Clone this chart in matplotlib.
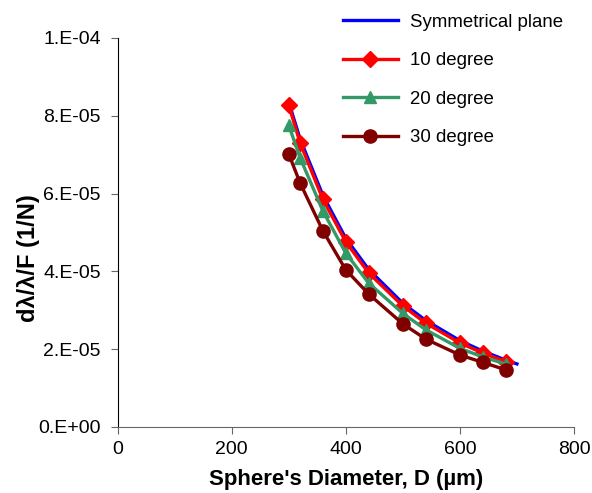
import numpy as np
import matplotlib.pyplot as plt

plt.rcParams['font.family'] = ['Liberation Sans', 'DejaVu Sans']

# Sphere diameter (um) and compliance d(lambda)/lambda/F (1/N)
d_sym = [300, 320, 360, 400, 440, 500, 540, 600, 640, 680, 700]
sym = [8.35e-5, 7.40e-5, 5.95e-5, 4.85e-5, 4.05e-5, 3.18e-5, 2.74e-5, 2.22e-5, 1.95e-5, 1.72e-5, 1.62e-5]

d = [300, 320, 360, 400, 440, 500, 540, 600, 640, 680]
deg10 = [8.28e-5, 7.30e-5, 5.85e-5, 4.76e-5, 3.96e-5, 3.11e-5, 2.67e-5, 2.16e-5, 1.90e-5, 1.68e-5]
deg20 = [7.76e-5, 6.92e-5, 5.55e-5, 4.47e-5, 3.70e-5, 2.92e-5, 2.50e-5, 2.02e-5, 1.80e-5, 1.62e-5]
deg30 = [7.02e-5, 6.27e-5, 5.04e-5, 4.04e-5, 3.42e-5, 2.65e-5, 2.26e-5, 1.85e-5, 1.66e-5, 1.47e-5]

ytick_labels = ['0.E+00', '2.E-05', '4.E-05', '6.E-05', '8.E-05', '1.E-04']

fig, ax = plt.subplots(figsize=(5.92, 4.93), dpi=100)
fig.subplots_adjust(left=0.1985, right=0.9696, bottom=0.134, top=0.923)

ax.plot(d_sym, sym, color='blue', lw=2.4, label='Symmetrical plane')
ax.plot(d, deg10, color='red', lw=2.4, marker='D', ms=8, label='10 degree')
ax.plot(d, deg20, color='#339966', lw=2.4, marker='^', ms=9, label='20 degree')
ax.plot(d, deg30, color='#800000', lw=2.4, marker='o', ms=9.5, label='30 degree')

ax.set_xlim(0, 800)
ax.set_ylim(0, 1e-4)
ax.set_xticks([0, 200, 400, 600, 800])
ax.set_yticks(np.arange(0, 1.01e-4, 2e-5))
ax.set_yticklabels(ytick_labels)

for s in ['top', 'right']:
    ax.spines[s].set_visible(False)
ax.spines['bottom'].set_color('#666666')
ax.tick_params(axis='both', labelsize=14, direction='out', length=5, color='#666666')
ax.tick_params(axis='y', pad=7)
ax.tick_params(axis='x', pad=5)

ax.set_xlabel("Sphere's Diameter, D (\u00b5m)", fontsize=16, fontweight='bold', labelpad=8)
ax.set_ylabel('d\u03bb/\u03bb/F (1/N)', fontsize=17, fontweight='bold', labelpad=-1, y=0.435)

leg = ax.legend(loc='upper left', bbox_to_anchor=(0.494, 1.062), frameon=False,
                borderpad=0, borderaxespad=0,
                fontsize=13.4, handlelength=2.95, labelspacing=1.15, handletextpad=0.65)

plt.savefig('out.png')
